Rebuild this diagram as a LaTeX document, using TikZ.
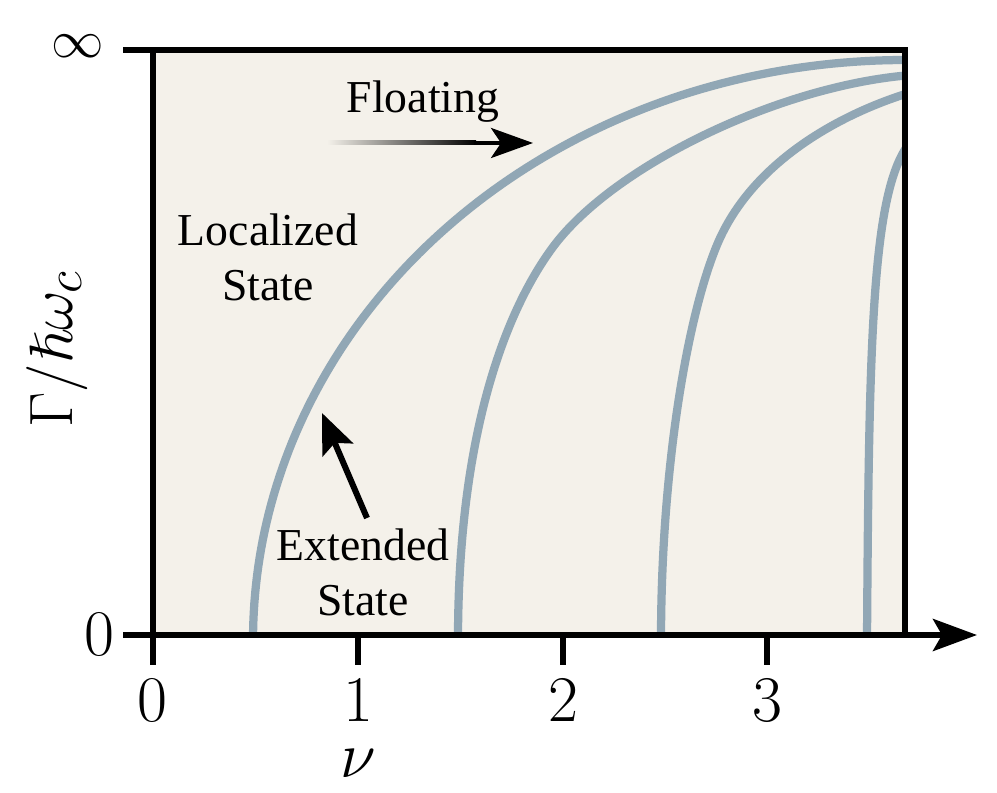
\documentclass[tikz,border=0pt]{standalone}
\usepackage{graphicx}
\usepackage{amssymb}
\usepackage{fontspec}
\newfontfamily\timesf{Liberation Serif}
\usetikzlibrary{arrows.meta}
\definecolor{bgc}{RGB}{244,241,234}
\definecolor{curvec}{RGB}{145,167,181}
\newcommand{\scaledmath}[2]{\scalebox{#1}{$#2$}}
\begin{document}
\begin{tikzpicture}[x=0.02cm,y=-0.02cm,
  frame/.style={line width=0.12cm, black},
  curvestyle/.style={line width=0.165cm, curvec},
  lbl/.style={font=\timesf\fontsize{26}{31.2}\selectfont, inner sep=0pt, align=center},
  ticklbl/.style={font=\fontsize{24.88}{30}\selectfont, inner sep=0pt},
  ]
\useasboundingbox (0,0) rectangle (997,793);
\fill[white] (0,0) rectangle (997,793);
% plot area
\fill[bgc] (153,50) rectangle (905,635);
\begin{scope}
  \clip (153,50) rectangle (905,635);
  \draw[curvestyle] plot[domain=0:90, samples=100, variable=\t] ({905-652*cos(\t)},{640-580*sin(\t)});
  \draw[curvestyle] (458,640) .. controls (458,440) and (503,314.5) .. (553,247) .. controls (613,166) and (780,85) .. (912,75);
  \draw[curvestyle] (661,640) .. controls (661,470) and (687,317) .. (717,245) .. controls (752,161) and (842,113) .. (912,92);
  \draw[curvestyle] (867,640) .. controls (869,330) and (872,185) .. (912,140);
\end{scope}
% frame and axes
\draw[frame] (123,50) -- (905,50) -- (905,635);
\draw[frame] (153,50) -- (153,665);
\draw[frame, -{Stealth[length=0.88cm,width=0.64cm,inset=0.18cm]}] (123,635) -- (977,635);
\draw[frame] (358,635) -- (358,665);
\draw[frame] (563,635) -- (563,665);
\draw[frame] (767,635) -- (767,665);
% tick labels
\node[ticklbl, anchor=base] (x0) at (152,721) {\scaledmath{1.49}{0}};
\node[ticklbl, anchor=base] (x1) at (358,721) {\scaledmath{1.49}{1}};
\node[ticklbl, anchor=base] (x2) at (563,721) {\scaledmath{1.49}{2}};
\node[ticklbl, anchor=base] (x3) at (767,721) {\scaledmath{1.49}{3}};
\node[ticklbl, anchor=base] (nu) at (358,777) {\scaledmath{1.49}{\nu}};
\node[ticklbl, anchor=east] (y0) at (115,635) {\scaledmath{1.49}{0}};
\node[ticklbl] (yinf) at (78,46) {\scaledmath{1.2}{\infty}};
\node[ticklbl, rotate=90] (ylab) at (57,349) {\scaledmath{1.4}{\Gamma/\hslash\omega_c}};
% labels
\node[lbl, anchor=base] (floating) at (423,113) {Floating};
\node[lbl] (localized) at (268,257) {Localized\\State};
\node[lbl] (extended) at (363,572) {Extended\\State};
% floating arrow
\coordinate (fltail) at (327,143);
\coordinate (flmid) at (474,143);
\coordinate (fltip) at (533,143);
\shade[left color=bgc, right color=black] (327,141) rectangle (476,145);
\draw[line width=0.08cm, -{Stealth[length=0.84cm,width=0.6cm,inset=0.2cm]}] (flmid) -- (fltip);
% extended arrow
\coordinate (extail) at (367,518);
\coordinate (extip) at (322,413);
\draw[line width=0.12cm, -{Stealth[length=0.8cm,width=0.66cm,inset=0.15cm]}] (extail) -- (extip);
\end{tikzpicture}
\end{document}
